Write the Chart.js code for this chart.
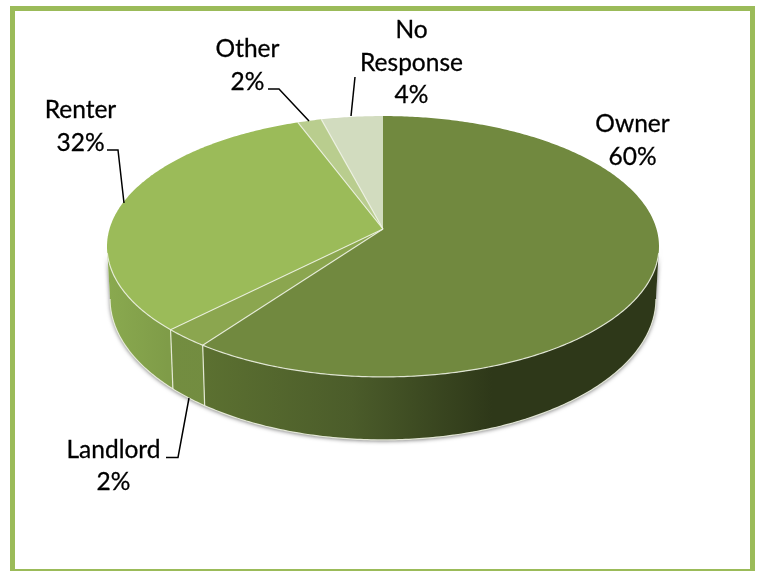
<!DOCTYPE html>
<html>
<head>
<meta charset="utf-8">
<style>
  html, body { margin: 0; padding: 0; background: #fff; }
  canvas { display: block; }
</style>
<script src="https://cdn.jsdelivr.net/npm/chart.js@4/dist/chart.umd.min.js"></script>
</head>
<body>
<canvas id="myChart" width="761" height="571"></canvas>
<script>
// values, in drawing order (clockwise from the top)
const categories = ["Owner", "Landlord", "Renter", "Other", "No Response"];
const shares = [60, 2.4, 31.9, 1.6, 4.1];
const shareLabels = ["60%", "2%", "32%", "2%", "4%"];
const topColors = ["#71893f", "#8ba64f", "#9bbb59", "#b9cd8e", "#d2dcbf"];

// perspective of the disc: the centre of the slices is not the centre of the ellipse
const tilt = 0.134;
const topPlane = { cx: 383, cy: 229, a: 273.5, b: 128.1 };
const basePlane = { cx: 383, cy: 280, a: 270.5, b: 138.5 };
// the wall's outline runs between the widest points of both ellipses
const wallStart = Math.asin(tilt);
const wallEnd = Math.PI - wallStart;

const project = (angle, plane) => {
  const u = Math.cos(angle);
  const v = Math.sin(angle);
  const w = 1 - tilt * v;
  return [plane.cx + (plane.a * u) / w, plane.cy + (plane.b * v) / w];
};

const tracePlane = (ctx, from, to, plane, first) => {
  const steps = Math.max(2, Math.ceil(Math.abs(to - from) * 90));
  for (let i = 0; i <= steps; i++) {
    const p = project(from + ((to - from) * i) / steps, plane);
    if (i === 0 && first) ctx.moveTo(p[0], p[1]);
    else ctx.lineTo(p[0], p[1]);
  }
};

const wallFill = (ctx, index) => {
  const g = ctx.createLinearGradient(100, 0, 660, 0);
  if (index === 0) {
    g.addColorStop(0.18, "#5c7131");
    g.addColorStop(0.45, "#4b5c2a");
    g.addColorStop(0.7, "#2e3819");
    g.addColorStop(1, "#2e3819");
  } else if (index === 1) {
    g.addColorStop(0, "#748e41");
    g.addColorStop(1, "#6c863c");
  } else {
    g.addColorStop(0, "#8bab50");
    g.addColorStop(0.12, "#7f9c48");
  }
  return g;
};

const disc3d = {
  id: "disc3d",
  beforeDatasetDraw(chart, args) {
    const ctx = chart.ctx;
    const arcs = args.meta.data;

    // shadow under the whole front wall
    ctx.save();
    ctx.shadowColor = "rgba(0,0,0,0.55)";
    ctx.shadowBlur = 4;
    ctx.shadowOffsetY = 1;
    ctx.fillStyle = "#fff";
    ctx.beginPath();
    tracePlane(ctx, wallStart, wallEnd, basePlane, true);
    tracePlane(ctx, wallEnd, wallStart, topPlane, false);
    ctx.closePath();
    ctx.fill();
    ctx.restore();

    // front wall, only the part of each slice facing the viewer
    arcs.forEach((arc, i) => {
      const from = Math.max(arc.startAngle, wallStart);
      const to = Math.min(arc.endAngle, wallEnd);
      if (to <= from) return;
      ctx.beginPath();
      tracePlane(ctx, from, to, topPlane, true);
      tracePlane(ctx, to, from, basePlane, false);
      ctx.closePath();
      ctx.fillStyle = wallFill(ctx, i);
      ctx.fill();
    });

    // bottom rim and slice edges on the wall
    ctx.strokeStyle = "rgba(236,240,224,0.9)";
    ctx.lineWidth = 1.2;
    ctx.beginPath();
    tracePlane(ctx, wallStart, wallEnd, basePlane, true);
    ctx.stroke();
    arcs.forEach((arc) => {
      const a = arc.endAngle;
      if (a <= wallStart || a >= wallEnd) return;
      const t = project(a, topPlane);
      const b = project(a, basePlane);
      ctx.beginPath();
      ctx.moveTo(t[0], t[1]);
      ctx.lineTo(b[0], b[1]);
      ctx.stroke();
    });

    // top face
    arcs.forEach((arc) => {
      ctx.beginPath();
      ctx.moveTo(topPlane.cx, topPlane.cy);
      tracePlane(ctx, arc.startAngle, arc.endAngle, topPlane, false);
      ctx.closePath();
      ctx.fillStyle = arc.options.backgroundColor;
      ctx.fill();
    });

    // slice edges on the top face
    ctx.strokeStyle = "rgba(240,243,230,0.85)";
    ctx.lineWidth = 1.2;
    arcs.forEach((arc, i) => {
      if (i === arcs.length - 1) return;
      const p = project(arc.endAngle, topPlane);
      ctx.beginPath();
      ctx.moveTo(topPlane.cx, topPlane.cy);
      ctx.lineTo(p[0], p[1]);
      ctx.stroke();
    });

    // light rim along the front of the top face
    ctx.beginPath();
    tracePlane(ctx, wallStart + 0.05, wallEnd - 0.05, topPlane, true);
    ctx.stroke();

    return false;
  },
};

const callouts = {
  id: "callouts",
  afterDraw(chart) {
    const ctx = chart.ctx;

    // green frame
    ctx.fillStyle = "#9bbb59";
    ctx.fillRect(10, 6, 745, 5);
    ctx.fillRect(10, 569, 745, 2);
    ctx.fillRect(10, 6, 5, 565);
    ctx.fillRect(750, 6, 5, 565);

    // leader lines
    const leaders = [
      [[166, 457.5], [178, 457.5], [189, 398]],
      [[107, 150], [118, 150], [124, 203]],
      [[268, 89], [279, 89], [309, 121]],
      [[355, 77], [351, 116]],
    ];
    ctx.strokeStyle = "#000";
    ctx.lineWidth = 1.5;
    leaders.forEach((line) => {
      ctx.beginPath();
      line.forEach((p, i) => (i ? ctx.lineTo(p[0], p[1]) : ctx.moveTo(p[0], p[1])));
      ctx.stroke();
    });

    // data labels
    const spots = [
      { x: 632.5, y: [124, 157], name: [categories[0]] },
      { x: 113.5, y: [450, 482], name: [categories[1]] },
      { x: 80.5, y: [110, 143], name: [categories[2]] },
      { x: 247.5, y: [49, 82], name: [categories[3]] },
      { x: 411.5, y: [30, 63, 95], name: categories[4].split(" ") },
    ];
    ctx.fillStyle = "#000";
    ctx.strokeStyle = "#000";
    ctx.lineWidth = 0.3;
    ctx.font = "24.5px Lato";
    ctx.textAlign = "center";
    ctx.textBaseline = "middle";
    spots.forEach((s, i) => {
      s.name.concat(shareLabels[i]).forEach((text, j) => {
        ctx.fillText(text, s.x, s.y[j]);
        ctx.strokeText(text, s.x, s.y[j]);
      });
    });
  },
};

new Chart(document.querySelector("#myChart"), {
  type: "pie",
  data: {
    labels: categories,
    datasets: [{ data: shares, backgroundColor: topColors }],
  },
  options: {
    responsive: false,
    animation: false,
    plugins: { legend: false, tooltip: { enabled: false } },
  },
  plugins: [disc3d, callouts],
});
</script>
</body>
</html>
